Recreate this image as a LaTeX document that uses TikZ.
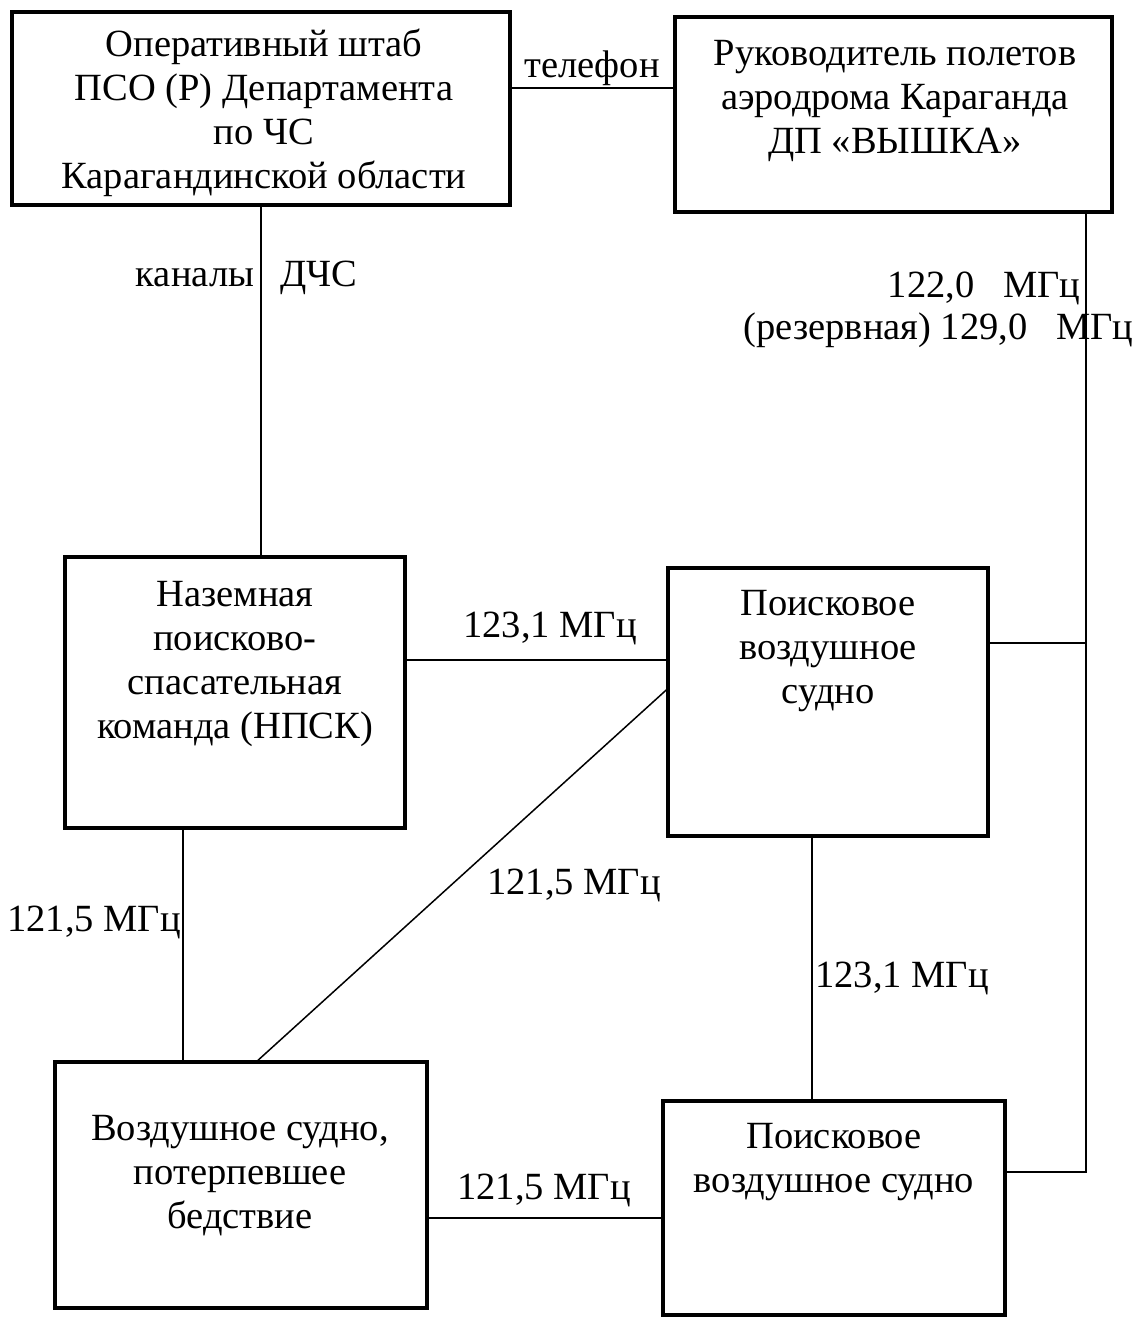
\documentclass[tikz,border=0pt]{standalone}
\usepackage{fontspec}
\setmainfont{Liberation Serif}
\usetikzlibrary{positioning}
\begin{document}
\begin{tikzpicture}%
[x=1pt,y=-1pt,font=\fontsize{38.5}{44}\selectfont,%
box/.style={draw, line width=3.5pt, inner sep=0pt},%
txt/.style={align=center, inner sep=0pt},%
link/.style={line width=1.5pt}]

\useasboundingbox (0,0) rectangle (1141,1318);

% boxes
\node[box, minimum width=498pt, minimum height=193pt] (shtab) at (261,108.5) {};
\node[box, minimum width=437pt, minimum height=195pt] (rukov) at (893.5,114.5) {};
\node[box, minimum width=340pt, minimum height=271pt] (npsk) at (235,692.5) {};
\node[box, minimum width=320pt, minimum height=268pt] (poisk1) at (828,702) {};
\node[box, minimum width=372pt, minimum height=246pt] (bedstv) at (241,1185) {};
\node[box, minimum width=342pt, minimum height=214pt] (poisk2) at (834,1208) {};

% texts in boxes
\node[txt] (shtab-t) at (264,113) {Оперативный штаб\\ПСО (Р) Департамента\\по ЧС\\Карагандинской области};
\node[txt] (rukov-t) at (895,101) {Руководитель полетов\\аэродрома Караганда\\ДП «ВЫШКА»};
\node[txt] (npsk-t) at (235,664) {Наземная\\поисково-\\спасательная\\команда (НПСК)};
\node[txt] (poisk1-t) at (828,651) {Поисковое\\воздушное\\судно};
\node[txt] (bedstv-t) at (240,1176) {Воздушное судно,\\потерпевшее\\бедствие};
\node[txt] (poisk2-t) at (834,1162) {Поисковое\\воздушное судно};

% connectors
\coordinate (corner) at (1086,1172);
\draw[link] (shtab.east |- 0,88) -- (rukov.west |- 0,88);
\draw[link] (shtab.south) -- (shtab.south |- npsk.north);
\draw[link] (1086,0 |- rukov.south) -- (corner) -- (poisk2.east |- corner);
\draw[link] (poisk1.east |- 0,643) -- (1086,643);
\draw[link] (npsk.east |- 0,660) -- (poisk1.west |- 0,660);
\draw[link] (poisk1.west |- 0,690) -- (258,0 |- bedstv.north);
\draw[link] (183,0 |- npsk.south) -- (183,0 |- bedstv.north);
\draw[link] (812,0 |- poisk1.south) -- (812,0 |- poisk2.north);
\draw[link] (bedstv.east |- 0,1218) -- (poisk2.west |- 0,1218);

% labels
\node (telefon) at (592,68) {телефон};
\node (kanaly) at (195,278) {каналы};
\node (dchs) at (319,278) {ДЧС};
\node[anchor=east] (mhz122) at (1084,288) {122,0\ \ \ МГц};
\node[anchor=east] (mhz129) at (1137,330) {(резервная) 129,0\ \ \ МГц};
\node (mhz1231a) at (550,628) {123,1 МГц};
\node (mhz1215a) at (574,885) {121,5 МГц};
\node (mhz1215b) at (94,922) {121,5 МГц};
\node (mhz1231b) at (902,978) {123,1 МГц};
\node (mhz1215c) at (544,1190) {121,5 МГц};
\end{tikzpicture}
\end{document}
